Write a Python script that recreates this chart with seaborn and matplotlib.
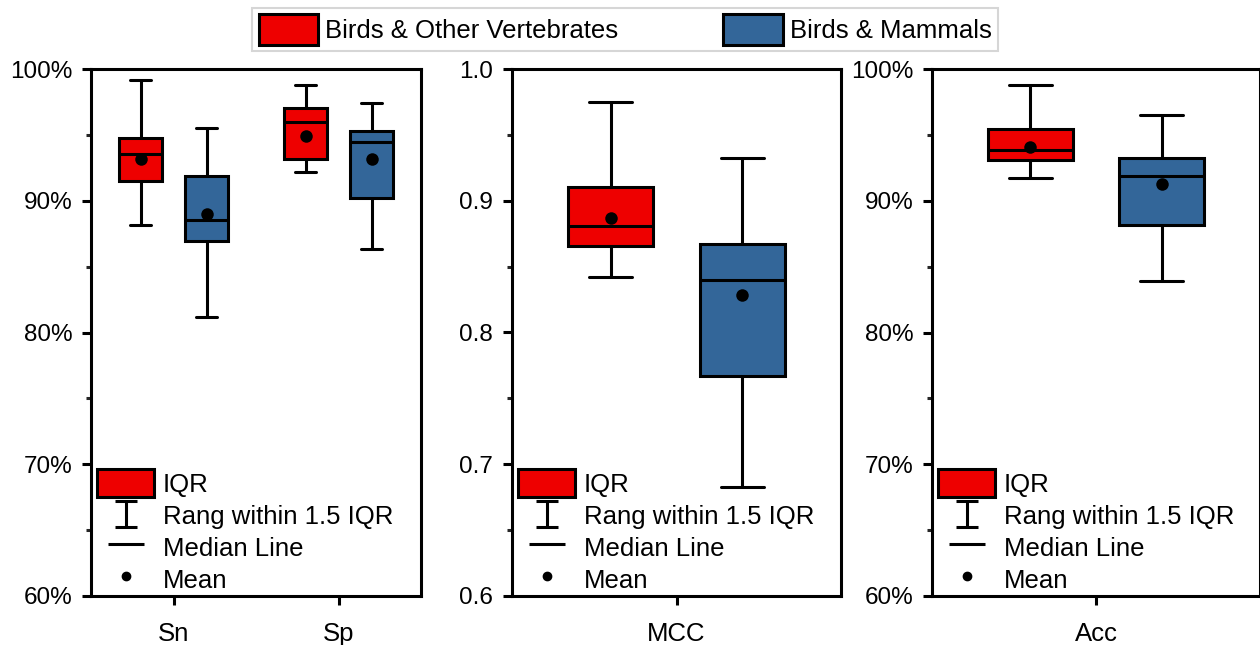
import numpy as np
import pandas as pd
import matplotlib
matplotlib.use("Agg")
import matplotlib.pyplot as plt
from matplotlib.patches import Patch
from matplotlib.lines import Line2D
from matplotlib.path import Path
from matplotlib.ticker import MultipleLocator, FuncFormatter
import seaborn as sns

# ---- data -------------------------------------------------------------
groups = ["Birds & Other Vertebrates", "Birds & Mammals"]
colors = ["#EE0000", "#336699"]
metrics = ["Sn", "Sp", "MCC", "Acc"]

# Box summaries: lower whisker, Q1, median, Q3, upper whisker
sn_other = [88.15, 91.50, 93.55, 94.74, 99.16]
sn_mammal = [81.20, 86.92, 88.51, 91.88, 95.50]
sp_other = [92.20, 93.14, 96.00, 97.04, 98.79]
sp_mammal = [86.31, 90.18, 94.43, 95.30, 97.45]
mcc_other = [0.842, 0.866, 0.8806, 0.9107, 0.975]
mcc_mammal = [0.683, 0.7667, 0.840, 0.8671, 0.9324]
acc_other = [91.75, 93.09, 93.85, 95.44, 98.79]
acc_mammal = [83.90, 88.15, 91.85, 93.24, 96.54]

# Means, in the order of `metrics`
mean_other = [93.14, 94.94, 0.8869, 94.05]
mean_mammal = [89.02, 93.17, 0.8284, 91.27]

summaries = {
    ("Sn", groups[0]): sn_other, ("Sn", groups[1]): sn_mammal,
    ("Sp", groups[0]): sp_other, ("Sp", groups[1]): sp_mammal,
    ("MCC", groups[0]): mcc_other, ("MCC", groups[1]): mcc_mammal,
    ("Acc", groups[0]): acc_other, ("Acc", groups[1]): acc_mammal,
}
box_df = pd.DataFrame(
    [(m, g, v) for (m, g), vals in summaries.items() for v in vals],
    columns=["metric", "group", "value"],
)
mean_df = pd.DataFrame(
    [(m, groups[0], v) for m, v in zip(metrics, mean_other)]
    + [(m, groups[1], v) for m, v in zip(metrics, mean_mammal)],
    columns=["metric", "group", "value"],
)

# ---- style ------------------------------------------------------------
sns.set_style("ticks")
plt.rcParams["font.family"] = ["Liberation Sans", "DejaVu Sans"]
plt.rcParams["text.color"] = "black"
plt.rcParams["legend.labelcolor"] = "black"
LW = 2.2
palette = dict(zip(groups, colors))

fig = plt.figure(figsize=(12.6, 6.45), dpi=100)
W, H = 1260, 645
panels = [["Sn", "Sp"], ["MCC"], ["Acc"]]
lefts = [91, 512, 932]
widths = [330, 329, 328]
bottom = 1 - 596 / H
height = (596 - 69) / H

pct_fmt = FuncFormatter(lambda v, _: f"{v:.0f}%")

# whisker-range symbol for the key, sitting slightly below the row centre
ibeam = Path(
    [(-0.42, 0.42), (0.42, 0.42), (0, 0.42), (0, -0.58),
     (-0.42, -0.58), (0.42, -0.58)],
    [Path.MOVETO, Path.LINETO, Path.MOVETO, Path.LINETO, Path.MOVETO, Path.LINETO],
)

for mets, left, w in zip(panels, lefts, widths):
    ax = fig.add_axes([left / W, bottom, w / W, height])
    sub = box_df[box_df["metric"].isin(mets)]
    sns.boxplot(
        data=sub, x="metric", y="value", hue="group",
        order=mets, hue_order=groups, palette=palette, saturation=1,
        width=0.8, gap=0.35, whis=(0, 100), linecolor="black",
        linewidth=LW, fliersize=0, legend=False, ax=ax,
    )
    msub = mean_df[mean_df["metric"].isin(mets)]
    sns.stripplot(
        data=msub, x="metric", y="value", hue="group",
        order=mets, hue_order=groups, palette={g: "black" for g in groups},
        dodge=True, jitter=False, size=9, linewidth=0, legend=False,
        ax=ax, zorder=5,
    )
    ax.set_xlim(-0.5, len(mets) - 0.5)
    if mets == ["MCC"]:
        ax.set_ylim(0.6, 1.0)
        ax.yaxis.set_major_locator(MultipleLocator(0.1))
        ax.yaxis.set_minor_locator(MultipleLocator(0.05))
        ax.yaxis.set_major_formatter(FuncFormatter(lambda v, _: f"{v:.1f}"))
    else:
        ax.set_ylim(60, 100)
        ax.yaxis.set_major_locator(MultipleLocator(10))
        ax.yaxis.set_minor_locator(MultipleLocator(5))
        ax.yaxis.set_major_formatter(pct_fmt)
    ax.set_xlabel("")
    ax.set_ylabel("")
    for s in ax.spines.values():
        s.set_visible(True)
        s.set_linewidth(LW)
        s.set_color("black")
    ax.tick_params(axis="y", which="major", direction="out", length=6.5,
                   width=LW, labelsize=17.5, pad=7, colors="black")
    ax.tick_params(axis="y", which="minor", direction="out", length=3.5,
                   width=LW)
    ax.tick_params(axis="x", which="major", direction="out", length=6.5,
                   width=LW, labelsize=18.5, pad=12, colors="black")

    handles = [
        Patch(facecolor=colors[0], edgecolor="black", linewidth=LW),
        Line2D([], [], linestyle="none", marker=ibeam, markersize=21.5,
               markeredgecolor="black", markerfacecolor="none",
               markeredgewidth=LW),
        Line2D([], [], linestyle="none", marker="_", markersize=26,
               markeredgewidth=LW, color="black"),
        Line2D([], [], linestyle="none", marker="o", markersize=6,
               color="black"),
    ]
    ax.legend(
        handles, ["IQR", "Rang within 1.5 IQR", "Median Line", "Mean"],
        loc="lower left", bbox_to_anchor=(0.01, 0), frameon=False,
        fontsize=18.5, handlelength=2.2, handleheight=1.3,
        handletextpad=0.35, labelspacing=0.15, borderaxespad=0.0,
        borderpad=0.12, labelcolor="black",
    )

top_leg = fig.legend(
    [Patch(facecolor=c, edgecolor="black", linewidth=LW) for c in colors],
    groups, loc="center", bbox_to_anchor=(625 / W, 1 - 29.5 / H), ncol=2,
    fontsize=18.5, frameon=True, fancybox=False, edgecolor="#cccccc",
    handlelength=2.33, handleheight=1.42, handletextpad=0.25,
    columnspacing=4.1, borderpad=0.25, labelcolor="black",
)
top_leg.get_frame().set_linewidth(1.5)

fig.savefig("out.png", dpi=100)
